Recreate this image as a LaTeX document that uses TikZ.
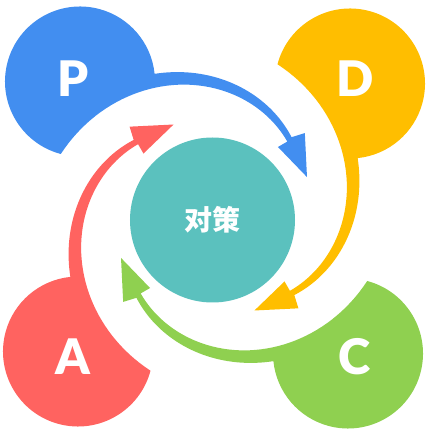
\documentclass[tikz,border=0pt]{standalone}
\usepackage{fontspec}
\usepackage{tikz}
\newfontfamily\cjkfont{Noto Sans CJK SC}
\newfontfamily\letterfont{Lato}[UprightFont={* Black}]
\definecolor{pdcaBlue}{RGB}{66,142,240}
\definecolor{pdcaYellow}{RGB}{255,190,0}
\definecolor{pdcaGreen}{RGB}{143,208,80}
\definecolor{pdcaRed}{RGB}{255,99,96}
\definecolor{pdcaTeal}{RGB}{91,193,190}

\begin{document}
\begin{tikzpicture}[x=1pt, y=1pt,
    petal/.pic={
      \fill[#1] (-134,136) ++(255.2:75) arc[start angle=255.2, end angle=5.9, radius=75]
        -- plot[domain=112.45:46, samples=40] (\x:{81.345+0.659*\x})
        -- (42.9:124) -- (23.5:101.4) -- (47.8:95.2)
        -- plot[domain=46:157.45, samples=50] (\x:{80.655+0.541*\x}) -- cycle;
    },
    letter/.style={text=white, inner sep=0pt, font=\letterfont\fontsize{49}{49}\selectfont},
    core/.style={circle, fill=pdcaTeal, minimum size=165pt, inner sep=0pt, text=white,
      font=\cjkfont\bfseries\fontsize{28}{28}\selectfont}
  ]
  \useasboundingbox (-214,-217.5) rectangle (215,217.5);
  \pic {petal=pdcaBlue};
  \pic[rotate=-90] {petal=pdcaYellow};
  \pic[rotate=-180] {petal=pdcaGreen};
  \pic[rotate=-270] {petal=pdcaRed};

  \node[core] (core) at (-1.5,-2.5) {对策};
  \node[letter] (plan) at (-141,139) {P};
  \node[letter] (do) at (141,139) {D};
  \node[letter] (check) at (141,-139) {C};
  \node[letter] (act) at (-141,-139) {A};
\end{tikzpicture}
\end{document}
